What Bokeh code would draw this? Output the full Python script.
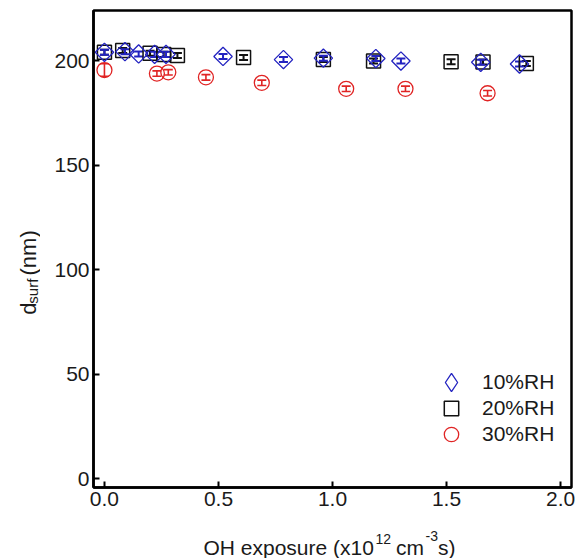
from math import pi
from bokeh.plotting import figure
from bokeh.layouts import column, row
from bokeh.models import (Range1d, FixedTicker, NumeralTickFormatter, Whisker, ColumnDataSource,
                          Legend, LegendItem, Label, TeeHead)
from bokeh.embed import file_html
from bokeh.resources import INLINE

# ---- data (OH exposure in 1e12 cm^-3 s, d_surf in nm) ----
x10 = [0.00, 0.09, 0.15, 0.22, 0.27, 0.52, 0.785, 0.96, 1.19, 1.30, 1.65, 1.82]
y10 = [204.0, 204.3, 203.2, 203.0, 203.0, 202.0, 200.5, 201.2, 201.0, 199.8, 199.2, 198.4]
e10 = [1.2, 1.2, 1.2, 1.2, 1.2, 1.2, 1.2, 1.2, 1.2, 1.2, 1.2, 1.2]

x20 = [0.00, 0.08, 0.20, 0.26, 0.32, 0.61, 0.96, 1.18, 1.52, 1.66, 1.85]
y20 = [204.0, 204.8, 203.5, 203.0, 202.5, 201.5, 200.5, 199.8, 199.5, 199.3, 198.6]
e20 = [1.2, 1.2, 1.2, 1.2, 1.2, 1.2, 1.2, 1.2, 1.2, 1.2, 1.2]

x30 = [0.00, 0.23, 0.28, 0.445, 0.69, 1.06, 1.32, 1.68]
y30 = [195.5, 193.8, 194.4, 192.0, 189.4, 186.5, 186.5, 184.4]
e30 = [3.0, 1.3, 1.3, 1.3, 1.3, 1.3, 1.3, 1.3]

labels = ["10%RH", "20%RH", "30%RH"]
xticks = [0.0, 0.5, 1.0, 1.5, 2.0]
yticks = [0, 50, 100, 150, 200]

BLUE = "#2222c0"
BLACK = "#111111"
RED = "#e02424"
TXT = "#1a1a1a"
FONT = "Liberation Sans"

W, H = 577, 558
LW, BH = 40, 36          # left title strip width, bottom title strip height
MW, MH = W - LW, H - BH  # main figure size

p = figure(width=MW, height=MH, output_backend="svg", toolbar_location=None,
           x_range=Range1d(-0.048, 2.048), y_range=Range1d(-4.3, 224),
           min_border_left=53, min_border_right=6, min_border_top=10, min_border_bottom=35)
p.title.visible = False
p.grid.visible = False
p.background_fill_color = "white"
p.border_fill_color = "white"
p.outline_line_color = "black"
p.outline_line_width = 2.5

for ax in (p.xaxis[0], p.yaxis[0]):
    ax.axis_line_width = 2.5
    ax.axis_line_color = "black"
    ax.major_tick_in = 6
    ax.major_tick_out = 0
    ax.major_tick_line_width = 2
    ax.major_tick_line_color = "black"
    ax.minor_tick_line_color = None
    ax.major_label_text_font = FONT
    ax.major_label_text_font_size = "21px"
    ax.major_label_text_color = TXT
    ax.major_label_standoff = 4

p.xaxis.ticker = FixedTicker(ticks=xticks)
p.xaxis.formatter = NumeralTickFormatter(format="0.0")
p.yaxis.ticker = FixedTicker(ticks=yticks)


def make_src(x, y, e):
    return ColumnDataSource(dict(x=x, y=y, lo=[a - b for a, b in zip(y, e)],
                                 hi=[a + b for a, b in zip(y, e)]))


s10, s20, s30 = make_src(x10, y10, e10), make_src(x20, y20, e20), make_src(x30, y30, e30)


def add_err(src, color, lw):
    w = Whisker(base="x", lower="lo", upper="hi", source=src, dimension="height",
                line_color=color, line_width=lw,
                upper_head=TeeHead(size=9, line_color=color, line_width=lw),
                lower_head=TeeHead(size=9, line_color=color, line_width=lw))
    p.add_layout(w)


r20 = p.scatter("x", "y", source=s20, marker="square", size=14, fill_color=None,
                line_color=BLACK, line_width=1.5)
add_err(s20, BLACK, 2)
r30 = p.scatter("x", "y", source=s30, marker="circle", size=15, fill_color=None,
                line_color=RED, line_width=1.3)
add_err(s30, RED, 1.6)
# legend swatch for the diamond series: zero size in the plot, legend gives it its own size
r10_key = p.scatter("x", "y", source=s10, marker="diamond", size=0, fill_color=None,
                    line_color=BLUE, line_width=1.3)
# diamonds drawn as squares turned by 45 degrees
r10 = p.scatter("x", "y", source=s10, marker="square", angle=pi / 4, size=13, fill_color=None,
                line_color=BLUE, line_width=1.3)
add_err(s10, BLUE, 2)

# one legend per row so the legend markers can be large
for i, (lab_txt, rend, g) in enumerate(zip(labels, [r10_key, r20, r30], [46, 36, 36])):
    lg = Legend(items=[LegendItem(label=lab_txt, renderers=[rend])],
                location=(451 - g // 2 - 93, 105 - 26 * i - g // 2), padding=0, margin=0, spacing=0,
                glyph_width=g, glyph_height=g, label_standoff=482 - 451 - g // 2, label_height=20,
                label_text_font=FONT, label_text_font_size="21px", label_text_color=TXT,
                border_line_color=None, background_fill_alpha=0)
    p.add_layout(lg)


def strip(w, h):
    f = figure(width=w, height=h, output_backend="svg", toolbar_location=None,
               x_range=Range1d(0, w), y_range=Range1d(0, h),
               x_axis_location=None, y_axis_location=None,
               min_border_left=0, min_border_right=0, min_border_top=0, min_border_bottom=0)
    f.title.visible = False
    f.grid.visible = False
    f.outline_line_color = None
    f.background_fill_color = "white"
    f.border_fill_color = "white"
    return f


def lab(f, text, x, y, size, angle=0):
    f.add_layout(Label(text=text, x=x, y=y, angle=angle, text_font=FONT, text_font_size=size,
                       text_color=TXT, text_align="left", text_baseline="alphabetic"))


left = strip(LW, MH)
lab(left, "d", 28, 189, "22px", pi / 2)
lab(left, "surf", 32, 201.2, "15px", pi / 2)
lab(left, "(nm)", 28, 232, "22px", pi / 2)

bottom = strip(W, BH)
lab(bottom, "OH exposure (x10", 203, 11, "21px")
lab(bottom, "12", 375, 20, "14px")
lab(bottom, "cm", 395.5, 11, "21px")
lab(bottom, "-3", 425, 23, "14px")
lab(bottom, "s)", 437.5, 11, "21px")

layout = column(row(left, p, spacing=0), bottom, spacing=0)

open("out.html", "w").write(file_html(layout, INLINE))
